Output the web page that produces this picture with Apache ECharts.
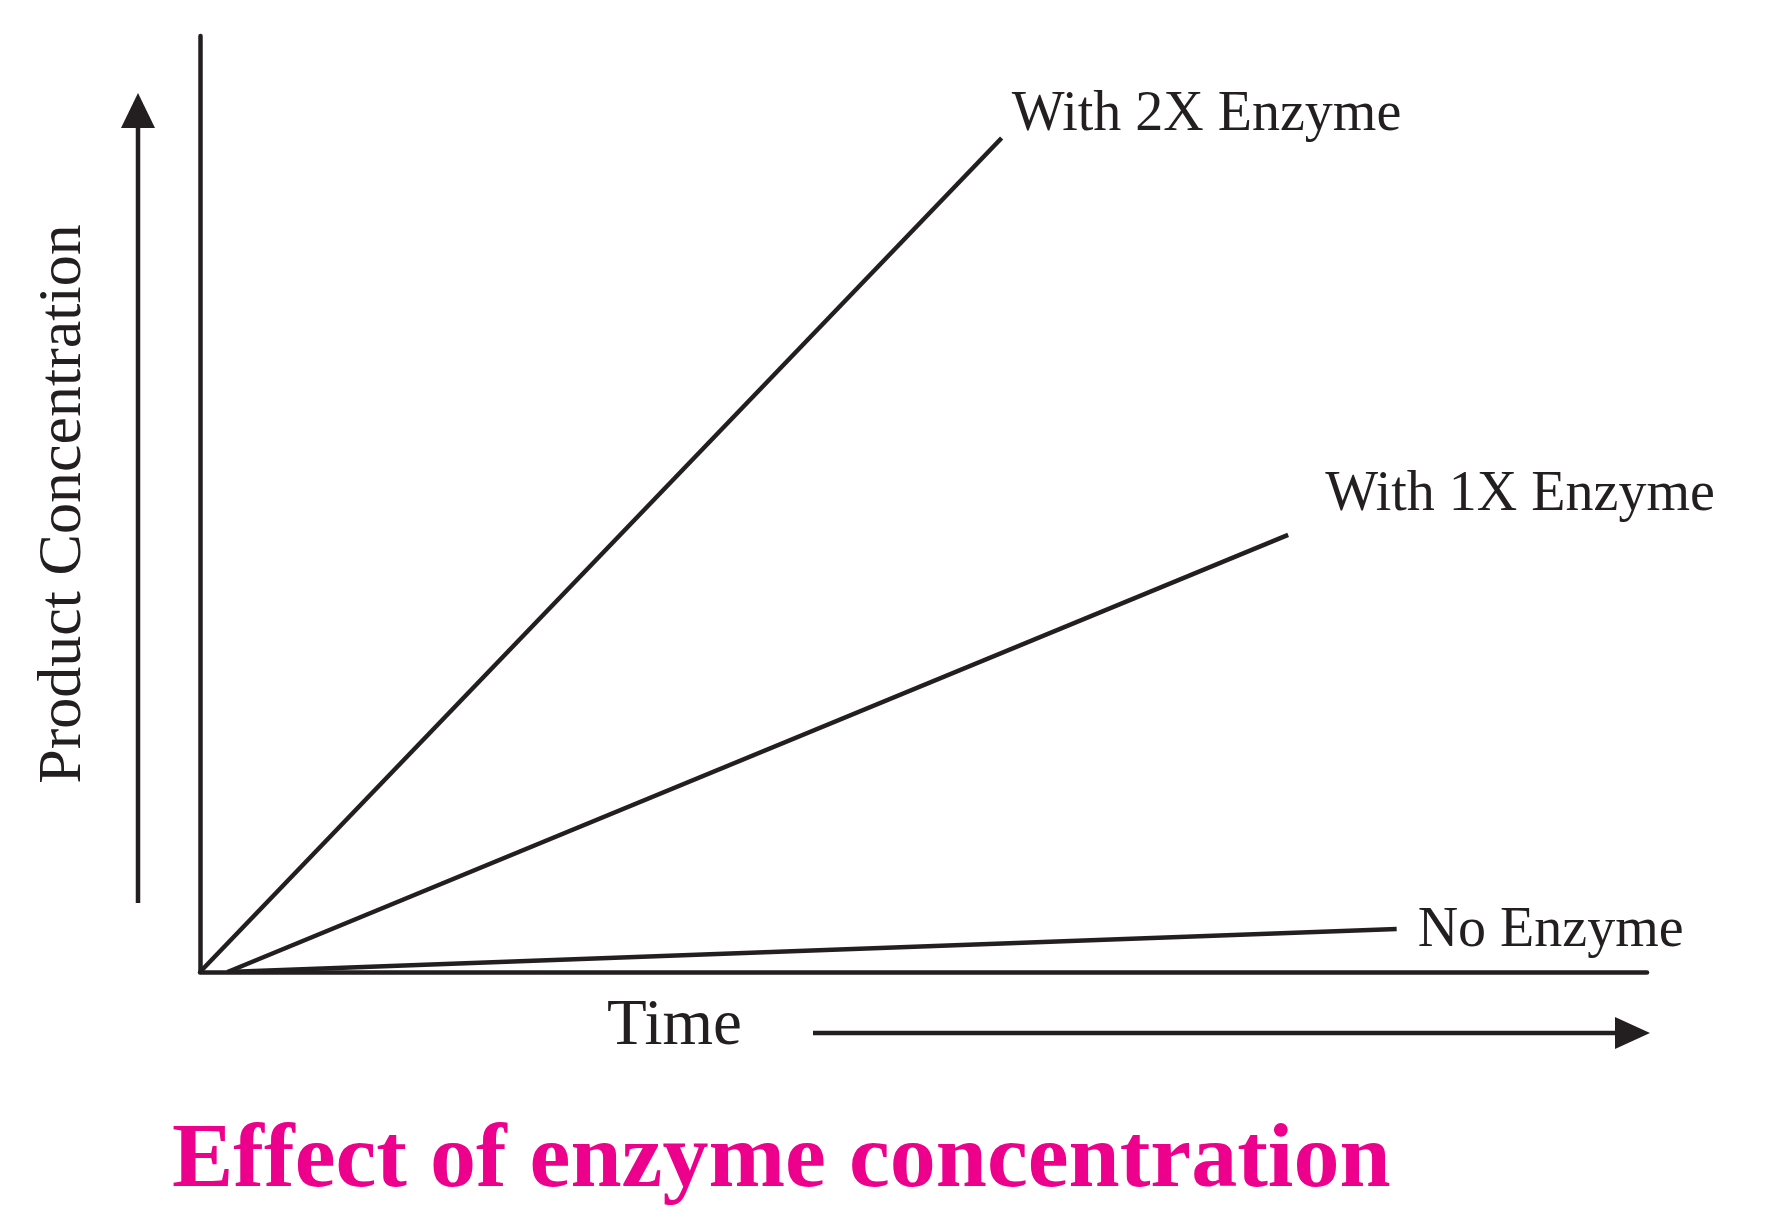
<!DOCTYPE html>
<html>
<head>
<meta charset="utf-8">
<script src="https://cdn.jsdelivr.net/npm/echarts@6/dist/echarts.min.js"></script>
<style>
html,body{margin:0;padding:0;background:#fff;}
#chart{width:1768px;height:1228px;}
</style>
</head>
<body>
<div id="chart"></div>
<script>
// Data (x = time, y = product concentration, both in arbitrary 0-100 units)
const seriesNames = ['With 2X Enzyme', 'With 1X Enzyme', 'No Enzyme'];
const with2X = [[0, 0], [55.4, 89.1]];
const with1X = [[1.9, 0], [75.2, 46.7]];
const noEnzyme = [[1.9, 0], [82.7, 4.6]];
const xAxisTitle = 'Time';
const yAxisTitle = 'Product Concentration';
const chartTitle = 'Effect of enzyme concentration';

const INK = '#231f20';
const SERIF = '"Liberation Serif", "Times New Roman", serif';

const chart = echarts.init(document.getElementById('chart'));

function lineSeries(name, data, labelOffset, fontSize) {
  return {
    name: name,
    type: 'line',
    data: data,
    symbol: 'none',
    silent: true,
    lineStyle: { color: INK, width: 4.5 },
    endLabel: {
      show: true,
      formatter: '{a}',
      color: INK,
      fontFamily: SERIF,
      fontSize: fontSize,
      distance: 0,
      align: 'left',
      verticalAlign: 'middle',
      offset: labelOffset
    }
  };
}

chart.setOption({
  animation: false,
  backgroundColor: '#ffffff',
  title: {
    text: chartTitle,
    left: 172,
    top: 1116,
    padding: 0,
    textStyle: {
      color: '#EC008C',
      fontFamily: SERIF,
      fontWeight: 'bold',
      fontSize: 92
    }
  },
  grid: { left: 200, right: 121, top: 36, bottom: 256, containLabel: false },
  xAxis: {
    type: 'value',
    min: 0,
    max: 100,
    axisLine: { show: true, onZero: false, lineStyle: { color: INK, width: 4.5 } },
    axisTick: { show: false },
    axisLabel: { show: false },
    splitLine: { show: false }
  },
  yAxis: {
    type: 'value',
    min: 0,
    max: 100,
    name: yAxisTitle,
    nameLocation: 'middle',
    nameGap: 105,
    nameRotate: 90,
    nameTextStyle: { color: INK, fontFamily: SERIF, fontSize: 62 },
    axisLine: { show: true, onZero: false, lineStyle: { color: INK, width: 4.5 } },
    axisTick: { show: false },
    axisLabel: { show: false },
    splitLine: { show: false }
  },
  graphic: [
    // vertical arrow (decoration)
    { type: 'line', shape: { x1: 138, y1: 903, x2: 138, y2: 126 }, style: { stroke: INK, lineWidth: 4.5 }, silent: true },
    { type: 'polygon', shape: { points: [[121, 128], [155, 128], [138, 93]] }, style: { fill: INK }, silent: true },
    // horizontal arrow (decoration)
    { type: 'line', shape: { x1: 813, y1: 1033, x2: 1617, y2: 1033 }, style: { stroke: INK, lineWidth: 4.5 }, silent: true },
    { type: 'polygon', shape: { points: [[1615, 1017], [1615, 1049], [1650, 1033]] }, style: { fill: INK }, silent: true },
    // x-axis title
    { type: 'text', left: 607, top: 994, silent: true,
      style: { text: xAxisTitle, fill: INK, font: '65px ' + SERIF } }
  ],
  series: [
    lineSeries(seriesNames[0], with2X, [10, -23], 56),
    lineSeries(seriesNames[1], with1X, [37, -40], 56),
    lineSeries(seriesNames[2], noEnzyme, [21, 2], 56)
  ]
});
</script>
</body>
</html>
